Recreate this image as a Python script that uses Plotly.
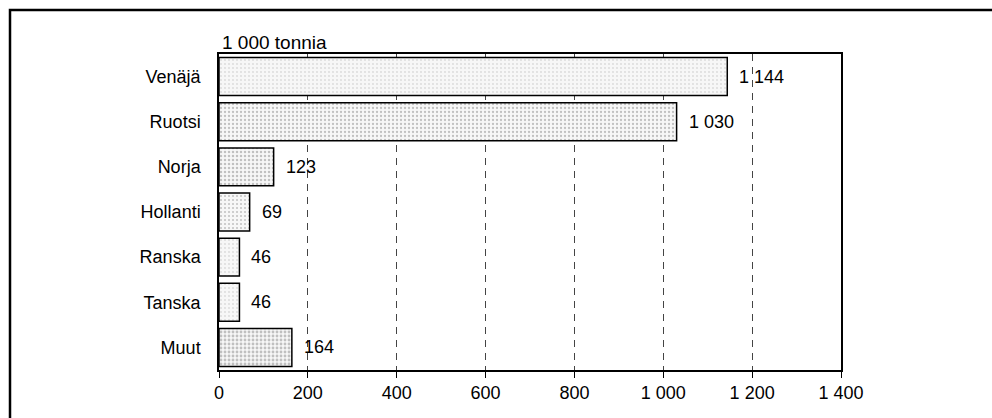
import plotly.graph_objects as go

categories = ["Venäjä", "Ruotsi", "Norja", "Hollanti", "Ranska", "Tanska", "Muut"]
values = [1144, 1030, 123, 69, 46, 46, 164]
tick_vals = [0, 200, 400, 600, 800, 1000, 1200, 1400]
tick_labels = ["0", "200", "400", "600", "800", "1 000", "1 200", "1 400"]
unit_label = "1 000 tonnia"
value_labels = [f"{v:,}".replace(",", " ") for v in values]

pattern_density = [0.1, 0.26, 0.3, 0.2, 0.1, 0.1, 0.4]

FONT = "Liberation Sans, Arial, sans-serif"
FS = 18

W, H = 992, 418
L, T = 219, 54
pw, ph = 622, 316
R = W - L - pw
B = H - T - ph

def px_to_paper_x(px):
    return (px - L) / pw

def px_to_paper_y(py):
    return (T + ph - py) / ph

fig = go.Figure(go.Bar(
    x=values,
    y=categories,
    orientation="h",
    cliponaxis=False,
    marker=dict(
        color="white",
        line=dict(color="black", width=1.5),
        pattern=dict(shape=".", fgcolor="#8a8a8a", bgcolor="#f7f7f7",
                     size=4, solidity=pattern_density),
    ),
    width=0.84,
    hoverinfo="skip",
))

annotations = [dict(
    x=v, y=c, xref="x", yref="y", text=t, showarrow=False,
    xanchor="left", yanchor="middle", xshift=10,
    font=dict(family=FONT, size=FS, color="black"),
) for c, v, t in zip(categories, values, value_labels)]

annotations.append(dict(
    text=unit_label, xref="paper", yref="paper",
    x=px_to_paper_x(220), y=px_to_paper_y(42),
    xanchor="left", yanchor="middle", showarrow=False,
    font=dict(family=FONT, size=19, color="black"),
))

fig.update_layout(
    width=W, height=H,
    margin=dict(l=L, r=R, t=T, b=B, pad=0),
    paper_bgcolor="white", plot_bgcolor="white",
    showlegend=False,
    font=dict(family=FONT, size=FS, color="black"),
    xaxis=dict(
        range=[0, 1400],
        tickvals=tick_vals, ticktext=tick_labels,
        showline=True, linecolor="black", linewidth=1.5, mirror=True,
        ticks="outside", ticklen=6, tickcolor="black", tickwidth=1,
        showgrid=True, gridcolor="#444444", griddash="7px,6px", gridwidth=1,
        zeroline=False,
        tickfont=dict(family=FONT, size=FS, color="black"),
        fixedrange=True,
    ),
    yaxis=dict(
        categoryorder="array", categoryarray=categories,
        autorange="reversed",
        showline=True, linecolor="black", linewidth=1.5, mirror=True,
        ticks="", ticklabelstandoff=13,
        tickfont=dict(family=FONT, size=FS, color="black"),
        showgrid=False, zeroline=False,
        fixedrange=True,
    ),
    annotations=annotations,
    shapes=[dict(
        type="rect", xref="paper", yref="paper",
        x0=px_to_paper_x(10), x1=px_to_paper_x(1010),
        y0=px_to_paper_y(440), y1=px_to_paper_y(10),
        line=dict(color="black", width=2.5), layer="below",
    )],
)

fig.write_html(
    "out.html",
    config={"displayModeBar": False},
    post_script="document.body.style.margin='0';document.body.style.overflow='hidden';",
)
